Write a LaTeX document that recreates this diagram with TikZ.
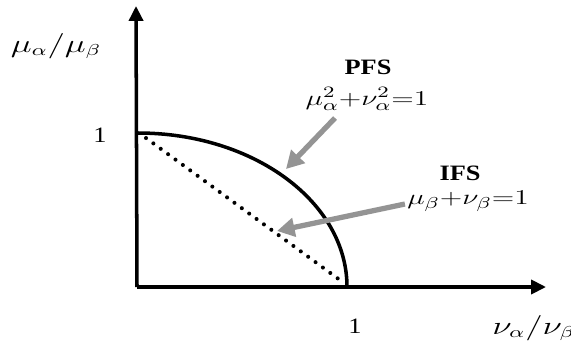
\documentclass[tikz,border=0pt]{standalone}
\usepackage{fontspec}
\setmainfont{Liberation Serif}
\usetikzlibrary{arrows.meta}
\newcommand{\wide}[1]{\scalebox{1.4}[1]{#1}}
\newcommand{\widet}[1]{\scalebox{1.2}[1]{#1}}
\begin{document}
\begin{tikzpicture}[x=0.02cm,y=-0.02cm,
  axis/.style={line width=2pt,-{Triangle[length=8.5pt,width=8pt]}},
  pointer/.style={line width=3pt,color=black!42,-{Triangle[length=10pt,width=10.5pt]}},
  txt/.style={inner sep=0pt,font=\fontsize{12.5}{14}\selectfont},
  formula/.style={inner sep=0pt,font=\fontsize{12.5}{14}\selectfont},
  axlab/.style={inner sep=0pt,font=\fontsize{13.5}{15}\selectfont}]
\useasboundingbox (0,0) rectangle (571,345);
\coordinate (O) at (137,287);
\coordinate (ytip) at (136,6);
\coordinate (xtip) at (546,287);
\coordinate (Y1) at (138,133);
\coordinate (X1) at (347,287);
\coordinate (d1) at (146,138);
\coordinate (d2) at (344,283);
% axes
\draw[axis] (O) -- (ytip);
\draw[axis] (O) -- (xtip);
% curves
\draw[line width=2pt] (Y1) arc[start angle=-90,end angle=0,x radius=209,y radius=154];
\draw[line width=2.3pt,line cap=round,dash pattern=on 0pt off 5.2pt] (d1) -- (d2);
% labels
\node[axlab] (ylab) at (56,46) {\wide{$\mu_\alpha/\mu_\beta$}};
\node[txt] (y1) at (100,135) {\widet{1}};
\node[txt] (x1) at (355,326) {\widet{1}};
\node[axlab,anchor=west] (xlab) at (492,328) {\wide{$\nu_\alpha/\nu_\beta$}};
\node[txt] (pfs) at (368,67) {\widet{\bfseries PFS}};
\node[formula] (pfsf) at (367,99) {\wide{$\mu_\alpha^2{+}\nu_\alpha^2{=}1$}};
\node[txt] (ifs) at (460,173) {\widet{\bfseries IFS}};
\node[formula] (ifsf) at (468,201) {\wide{$\mu_\beta{+}\nu_\beta{=}1$}};
% pointers
\coordinate (p1) at (286,169);
\coordinate (p2) at (277,231);
\draw[pointer] (335,118) -- (p1);
\draw[pointer] (ifsf.west) ++(-2,3) -- (p2);
\end{tikzpicture}
\end{document}
